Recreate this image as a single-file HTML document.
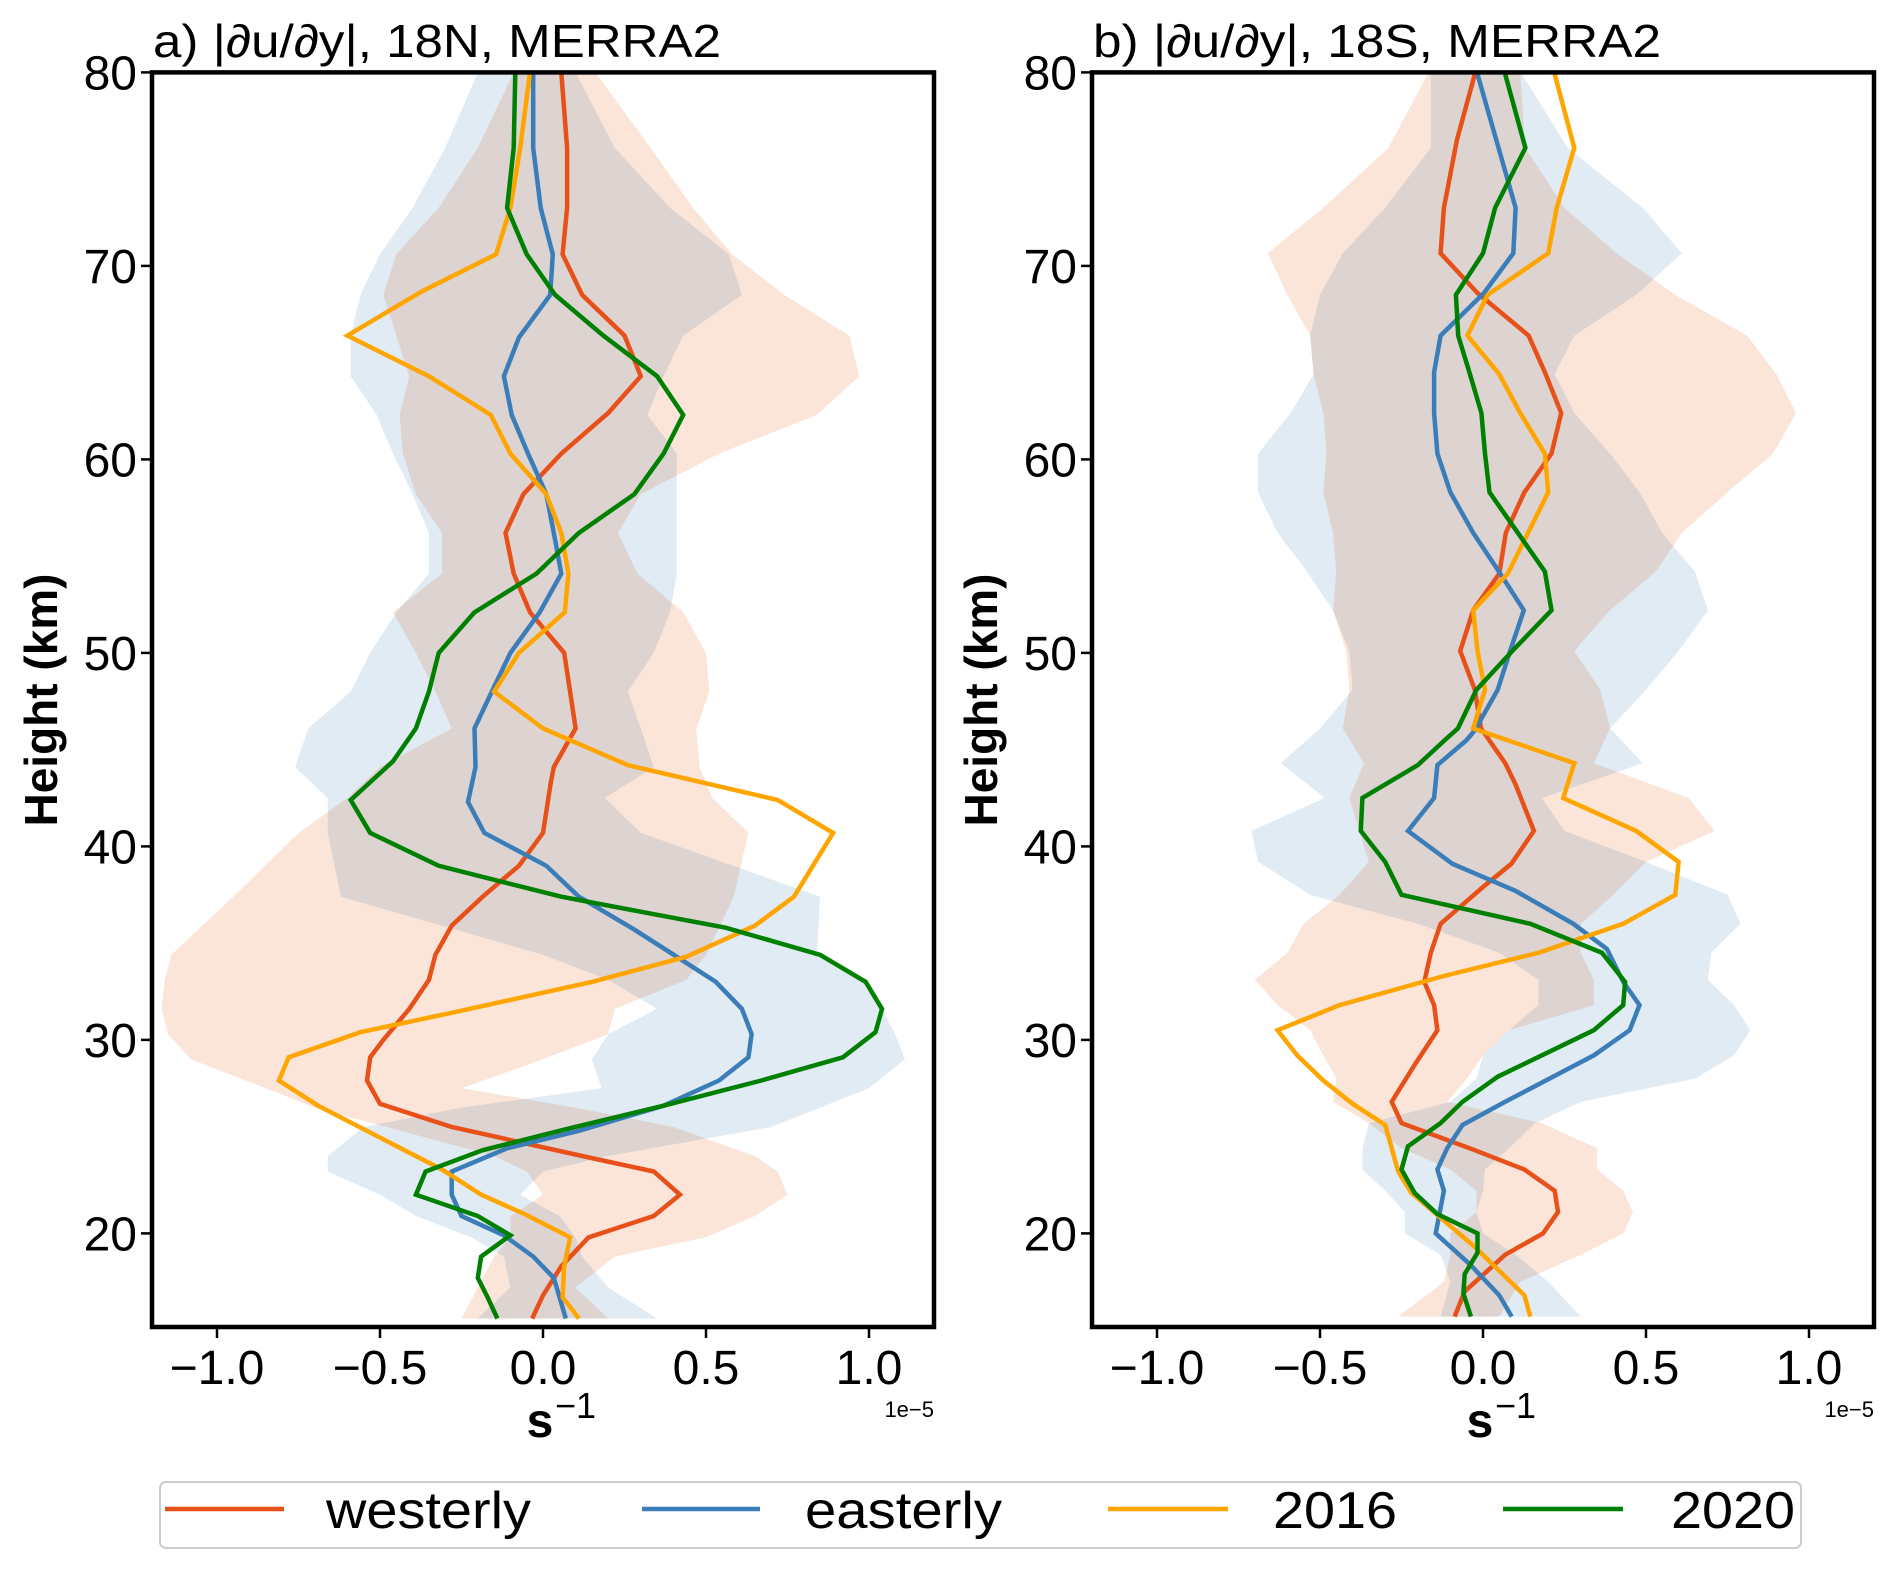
<!DOCTYPE html>
<html><head><meta charset="utf-8"><style>
html,body{margin:0;padding:0;background:#fff;}
svg{display:block;font-family:"Liberation Sans",sans-serif;}
</style></head><body>
<svg id="fig" width="1892" height="1571" viewBox="0 0 1892 1571" xmlns="http://www.w3.org/2000/svg">
<defs>
<clipPath id="clipA"><rect x="152" y="72" width="782" height="1255"/></clipPath>
<clipPath id="clipB"><rect x="1092" y="72" width="782" height="1255"/></clipPath>
</defs>
<g id="panelA"></g>
<g id="panelB"></g>
<g>
<rect x="160" y="1482" width="1641" height="66" rx="6" fill="#fff" stroke="#ccc" stroke-width="2"/>
<g><line x1="165" y1="1509" x2="284" y2="1509" stroke="#e8501a" stroke-width="4.5"/><text x="326" y="1528" font-size="52" textLength="205" lengthAdjust="spacingAndGlyphs">westerly</text></g>
<g><line x1="642" y1="1509" x2="760" y2="1509" stroke="#3a7db8" stroke-width="4.5"/><text x="805" y="1528" font-size="52" textLength="197" lengthAdjust="spacingAndGlyphs">easterly</text></g>
<g><line x1="1108" y1="1509" x2="1228" y2="1509" stroke="#ffa500" stroke-width="4.5"/><text x="1273" y="1528" font-size="52" textLength="124" lengthAdjust="spacingAndGlyphs">2016</text></g>
<g><line x1="1503" y1="1509" x2="1623" y2="1509" stroke="#008000" stroke-width="4.5"/><text x="1671" y="1528" font-size="52" textLength="124" lengthAdjust="spacingAndGlyphs">2020</text></g>
</g>
</svg>
<script>
// ---------- data ----------
const xTicks = [-1.0, -0.5, 0.0, 0.5, 1.0];
const xTickLabels = ["\u22121.0", "\u22120.5", "0.0", "0.5", "1.0"];
const yTicks = [20, 30, 40, 50, 60, 70, 80];
const yTickLabels = ["20", "30", "40", "50", "60", "70", "80"];

// Panel a (18N)
const aWestH = [80,76.1,73,70.6,68.5,66.4,64.3,62.4,60.3,58.2,56.2,54.1,52.1,50,48,46.1,44.1,43.3,40.7,39,37.4,35.9,34.4,33.1,31.6,30,29.1,27.9,26.7,25.5,24.6,24,23.2,22,20.9,19.8,18.3,16.8,15.6];
const aWestX = [0.056,0.074,0.074,0.06,0.12,0.25,0.3,0.2,0.056,-0.06,-0.115,-0.09,-0.04,0.065,0.083,0.1,0.033,0.024,0,-0.074,-0.185,-0.28,-0.33,-0.35,-0.41,-0.49,-0.53,-0.54,-0.5,-0.28,-0.04,0.12,0.34,0.42,0.34,0.14,0.056,0,-0.033];
const aEastH = [80,76.1,73,70.6,68.5,66.3,64.3,62.3,60.3,58.2,56.2,54.1,52.1,50,48,46.1,44.1,42.3,40.7,39,37.4,35.7,34.3,33,31.6,30.3,29.1,27.9,26.6,25.3,24.4,23.2,22,20.9,19.9,18.8,17.7,15.6];
const aEastX = [-0.03,-0.03,-0.007,0.03,0.022,-0.074,-0.12,-0.096,-0.046,0.01,0.033,0.056,-0.01,-0.1,-0.157,-0.21,-0.207,-0.23,-0.18,0.01,0.11,0.28,0.41,0.53,0.61,0.64,0.63,0.54,0.37,0.11,-0.11,-0.28,-0.28,-0.25,-0.12,-0.03,0.033,0.07];
const a2016H = [80,76.1,73,70.6,68.7,66.4,64.3,62.3,60.3,58.2,56.2,54.1,52.1,50,48,46.1,44.2,42.4,40.7,37.4,35.9,34.3,33,31.4,30.4,29.1,27.9,26.6,23.3,22,21,19.8,18.3,16.7,15.6];
const a2016X = [-0.04,-0.07,-0.1,-0.144,-0.37,-0.6,-0.35,-0.16,-0.1,0.01,0.056,0.078,0.067,-0.074,-0.15,0,0.26,0.72,0.89,0.77,0.65,0.44,0.15,-0.28,-0.56,-0.78,-0.81,-0.69,-0.31,-0.19,-0.056,0.083,0.065,0.06,0.11];
const a2020H = [80,76.1,73,70.6,68.5,66.4,64.3,62.3,60.3,58.2,56.2,54.1,52.1,50,48,46.1,44.4,42.4,40.7,39,37.4,35.8,34.4,33,31.6,30.4,29.1,27.9,26.6,25.4,24.3,23.2,22,20.9,19.9,18.8,17.7,16.7,15.6];
const a2020X = [-0.085,-0.09,-0.11,-0.05,0.037,0.185,0.35,0.43,0.37,0.28,0.11,-0.02,-0.21,-0.32,-0.35,-0.39,-0.46,-0.59,-0.53,-0.32,0.056,0.56,0.85,0.99,1.04,1.02,0.92,0.67,0.37,0.074,-0.185,-0.36,-0.39,-0.2,-0.1,-0.19,-0.2,-0.17,-0.14];
const aBandH = [80,76.1,73,70.6,68.5,66.4,64.3,62.3,60.3,58.2,56.2,54.1,52.1,50,48,46.1,44.1,42.5,40.7,37.4,34.4,33.1,31.6,30.3,29,27.5,26.5,25.5,24,23.2,22,20.9,19.8,18.8,17.2,15.6];
const aWestLo = [-0.09,-0.2,-0.32,-0.45,-0.49,-0.45,-0.41,-0.44,-0.43,-0.39,-0.31,-0.31,-0.46,-0.39,-0.33,-0.28,-0.5,-0.6,-0.75,-0.95,-1.14,-1.16,-1.17,-1.15,-1.08,-0.85,-0.7,-0.48,-0.15,-0.05,0.0,-0.1,-0.1,-0.15,-0.2,-0.25];
const aWestHi = [0.16,0.33,0.46,0.58,0.74,0.94,0.97,0.84,0.54,0.3,0.23,0.29,0.43,0.5,0.51,0.47,0.48,0.52,0.63,0.585,0.5,0.44,0.22,0.2,0.0,-0.25,0.1,0.4,0.65,0.72,0.75,0.65,0.5,0.22,0.1,0.2];
const aEastLo = [-0.2,-0.3,-0.4,-0.5,-0.56,-0.59,-0.59,-0.51,-0.46,-0.4,-0.35,-0.35,-0.45,-0.53,-0.59,-0.72,-0.76,-0.66,-0.66,-0.62,0.0,0.2,0.35,0.2,0.15,0.18,-0.25,-0.55,-0.66,-0.66,-0.5,-0.39,-0.22,-0.12,-0.1,-0.2];
const aEastHi = [0.1,0.22,0.39,0.57,0.61,0.43,0.37,0.32,0.41,0.41,0.41,0.41,0.39,0.34,0.26,0.3,0.34,0.19,0.3,0.85,0.84,0.98,1.04,1.08,1.11,1.0,0.85,0.7,0.2,0.0,-0.07,0.05,0.1,0.12,0.2,0.35];

// Panel b (18S)
const bWestH = [79.9,76.5,73,70.65,68.6,66.4,64.5,62.4,60.3,58.3,56.2,54.1,52.2,50.1,48.1,46.1,44.3,43.2,40.8,39.1,37.9,36,34.5,33,31.8,30.5,28.7,26.8,25.7,24.3,23.3,22.2,21.1,20,18.9,17,15.7];
const bWestX = [-0.025,-0.08,-0.12,-0.13,-0.017,0.14,0.19,0.24,0.21,0.127,0.07,0.05,-0.03,-0.07,-0.025,-0.006,0.068,0.1,0.156,0.087,0,-0.13,-0.16,-0.18,-0.15,-0.14,-0.21,-0.28,-0.25,-0.025,0.127,0.22,0.23,0.184,0.068,-0.056,-0.087];
const bEastH = [79.9,75.6,73,70.65,68.6,66.4,64.5,62.4,60.3,58.3,56.2,54.1,52.2,50.1,48.1,46,45.5,44.2,42.5,40.8,39.1,37.7,36,34.7,33,31.8,30.5,29.2,26.8,25.6,24.4,23.3,22.2,20,18.4,16.8,15.7];
const bEastX = [-0.017,0.056,0.1,0.093,0.003,-0.13,-0.15,-0.15,-0.14,-0.1,-0.03,0.053,0.125,0.083,0.045,-0.025,-0.05,-0.14,-0.15,-0.23,-0.094,0.1,0.277,0.38,0.43,0.48,0.45,0.34,0.068,-0.063,-0.11,-0.14,-0.12,-0.145,-0.04,0.05,0.088];
const b2016H = [79.9,76.1,73,70.65,68.5,66.4,64.4,62.4,60.3,58.3,54.1,52.2,50.1,48.1,46.1,44.3,42.5,40.8,39.2,37.5,36,34.5,33.3,31.8,30.5,29.2,27.9,26.7,25.6,23.2,22.1,19.3,16.8,15.7];
const b2016X = [0.22,0.28,0.226,0.2,0.014,-0.048,0.05,0.114,0.19,0.2,0.076,-0.03,-0.017,0.006,-0.03,0.28,0.246,0.47,0.6,0.59,0.43,0.17,-0.12,-0.44,-0.63,-0.57,-0.49,-0.4,-0.3,-0.26,-0.22,-0.025,0.127,0.145];
const b2020H = [79.9,76.1,73,70.65,68.5,66.4,64.4,62.4,60.3,58.3,56.2,54.2,52.2,50.1,48.1,46.1,45.5,44.2,42.5,40.8,39.2,37.5,36,34.5,33,31.8,30.5,28.1,26.8,25.7,24.5,23.3,22.1,21,20,19,17.9,16.9,15.7];
const b2020X = [0.068,0.13,0.037,0,-0.083,-0.076,-0.04,-0.005,0.006,0.02,0.107,0.19,0.21,0.09,-0.02,-0.077,-0.117,-0.2,-0.37,-0.375,-0.3,-0.25,0.145,0.365,0.436,0.43,0.34,0.045,-0.063,-0.13,-0.23,-0.25,-0.21,-0.14,-0.017,-0.017,-0.056,-0.06,-0.037];
const bBandH = [79.9,76.1,73,70.65,68.5,66.4,64.4,62.4,60.3,58.3,56.2,54.2,52.2,50.1,48.1,46.1,44.3,42.5,40.8,39.2,37.5,36,34.5,33.1,31.8,30.5,29.2,28,26.8,25.7,24.4,23.3,22.2,21.1,20,18.9,17.5,15.7];
const bWestLo = [-0.17,-0.29,-0.49,-0.66,-0.6,-0.53,-0.52,-0.49,-0.48,-0.49,-0.46,-0.45,-0.46,-0.42,-0.41,-0.43,-0.365,-0.41,-0.38,-0.35,-0.44,-0.55,-0.6,-0.7,-0.63,-0.53,-0.49,-0.45,-0.46,-0.35,-0.25,-0.1,-0.02,-0.02,-0.1,-0.1,-0.12,-0.26];
const bWestHi = [0.114,0.13,0.25,0.41,0.59,0.81,0.9,0.96,0.89,0.75,0.61,0.53,0.39,0.28,0.36,0.39,0.34,0.63,0.71,0.5,0.4,0.3,0.3,0.34,0.34,0.08,0.0,-0.05,-0.11,0.18,0.35,0.35,0.43,0.46,0.43,0.3,0.114,0.05];
const bEastLo = [-0.16,-0.16,-0.3,-0.43,-0.5,-0.53,-0.52,-0.59,-0.69,-0.69,-0.63,-0.54,-0.46,-0.41,-0.4,-0.5,-0.62,-0.485,-0.71,-0.69,-0.53,-0.2,0.05,0.17,0.17,0.08,0.0,-0.02,-0.1,-0.35,-0.37,-0.37,-0.3,-0.24,-0.24,-0.13,-0.1,-0.13];
const bEastHi = [0.12,0.26,0.49,0.61,0.47,0.28,0.22,0.28,0.39,0.48,0.55,0.65,0.69,0.6,0.5,0.39,0.49,0.18,0.25,0.5,0.75,0.79,0.7,0.69,0.77,0.82,0.77,0.65,0.3,0.16,0.08,0.006,0.0,-0.02,0.0,0.1,0.2,0.3];

// ---------- drawing ----------
const NS = "http://www.w3.org/2000/svg";
const Y_TOP = 72.4, PX_PER_KM = 19.35, Y_BOTTOM = 1327;
function yScale(v){ return Y_TOP + (80 - v) * PX_PER_KM; }
function mk(tag, attrs, parent){
  const e = document.createElementNS(NS, tag);
  for (const k in attrs) e.setAttribute(k, attrs[k]);
  parent.appendChild(e);
  return e;
}
function drawPanel(g, left, clipId, title, bands, series){
  const x0 = left + 391;
  const xScale = v => x0 + v * 326;
  const right = left + 782;
  const clipG = mk("g", {"clip-path": "url(#" + clipId + ")"}, g);
  bands.forEach(b => {
    const pts = [];
    b.h.forEach((h, i) => pts.push(xScale(b.hi[i]).toFixed(1) + "," + yScale(h).toFixed(1)));
    for (let i = b.h.length - 1; i >= 0; i--) pts.push(xScale(b.lo[i]).toFixed(1) + "," + yScale(b.h[i]).toFixed(1));
    const p = mk("polygon", {points: pts.join(" "), fill: b.color, "fill-opacity": "0.16", stroke: "none"}, clipG);
    
    
  });
  series.forEach(s => {
    const pts = s.h.map((h, i) => xScale(s.x[i]).toFixed(1) + "," + yScale(h).toFixed(1)).join(" ");
    const l = mk("polyline", {points: pts, fill: "none", stroke: s.color, "stroke-width": "4.5", "stroke-linejoin": "miter"}, clipG);
    
    
  });
  const fr = mk("rect", {x: left, y: Y_TOP, width: 782, height: Y_BOTTOM - Y_TOP, fill: "none", stroke: "#000", "stroke-width": "4.5"}, g);
  
  
  xTicks.forEach((t, i) => {
    const x = xScale(t);
    const tk = mk("line", {x1: x, y1: Y_BOTTOM, x2: x, y2: Y_BOTTOM + 11, stroke: "#000", "stroke-width": "2.5"}, g);
    
    
    const tx = mk("text", {x: x, y: 1384, "font-size": "48", "text-anchor": "middle"}, g);
    tx.textContent = xTickLabels[i];
    
    
  });
  yTicks.forEach((t, i) => {
    const y = yScale(t);
    const tk = mk("line", {x1: left - 11, y1: y, x2: left, y2: y, stroke: "#000", "stroke-width": "2.5"}, g);
    
    
    const tx = mk("text", {x: left - 15, y: y + 17, "font-size": "48", "text-anchor": "end"}, g);
    tx.textContent = yTickLabels[i];
    
    
  });
  const tt = mk("text", {x: left + 1, y: 57, "font-size": "46", textLength: "568", lengthAdjust: "spacingAndGlyphs"}, g);
  tt.textContent = title;
  
  
  const yl = mk("text", {x: 0, y: 0, "font-size": "46", "font-weight": "bold", "text-anchor": "middle", transform: "translate(" + (left - 95) + ",700) rotate(-90)"}, g);
  yl.textContent = "Height (km)";
  
  
  const xl = mk("text", {x: x0 - 3, y: 1437, "font-size": "48", "font-weight": "bold", "text-anchor": "middle"}, g);
  xl.textContent = "s";
  
  
  const xs = mk("text", {x: x0 + 12, y: 1418, "font-size": "36"}, g);
  xs.textContent = "\u22121";
  
  
  const off = mk("text", {x: right, y: 1417, "font-size": "22", "text-anchor": "end"}, g);
  off.textContent = "1e\u22125";
  
  
}
const RED = "#e8501a", BLUE = "#3a7db8", ORANGE = "#ffa500", GREEN = "#008000";
drawPanel(document.getElementById("panelA"), 152, "clipA", "a) |\u2202u/\u2202y|, 18N, MERRA2",
  [{h: aBandH, lo: aWestLo, hi: aWestHi, color: "#e6550d", name: "westerly-band"},
   {h: aBandH, lo: aEastLo, hi: aEastHi, color: "#4682b4", name: "easterly-band"}],
  [{h: aWestH, x: aWestX, color: RED, name: "westerly-line"},
   {h: aEastH, x: aEastX, color: BLUE, name: "easterly-line"},
   {h: a2016H, x: a2016X, color: ORANGE, name: "line-2016"},
   {h: a2020H, x: a2020X, color: GREEN, name: "line-2020"}]);
drawPanel(document.getElementById("panelB"), 1092, "clipB", "b) |\u2202u/\u2202y|, 18S, MERRA2",
  [{h: bBandH, lo: bWestLo, hi: bWestHi, color: "#e6550d", name: "westerly-band"},
   {h: bBandH, lo: bEastLo, hi: bEastHi, color: "#4682b4", name: "easterly-band"}],
  [{h: bWestH, x: bWestX, color: RED, name: "westerly-line"},
   {h: bEastH, x: bEastX, color: BLUE, name: "easterly-line"},
   {h: b2016H, x: b2016X, color: ORANGE, name: "line-2016"},
   {h: b2020H, x: b2020X, color: GREEN, name: "line-2020"}]);
</script>
</body></html>
